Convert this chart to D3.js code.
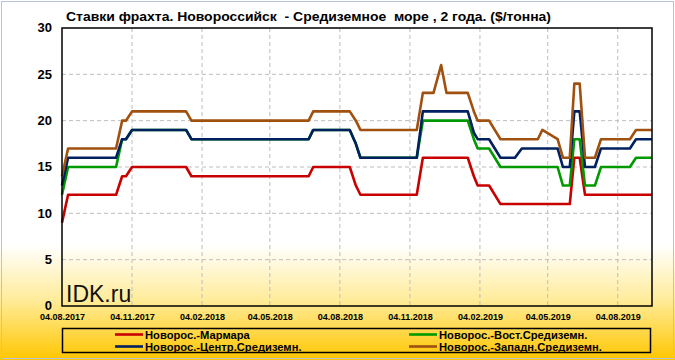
<!DOCTYPE html>
<html><head><meta charset="utf-8">
<script src="https://cdn.jsdelivr.net/npm/d3@7"></script>
<style>html,body{margin:0;padding:0;background:#fff;}svg{display:block;}</style>
</head><body>
<script>
const titleText = "Ставки фрахта. Новороссийск  - Средиземное  море , 2 года. ($/тонна)";
const dates = ["04.08.2017","12.08.2017","14.10.2017","22.10.2017","27.10.2017","04.11.2017","14.01.2018","21.01.2018","24.06.2018","30.06.2018","17.08.2018","25.08.2018","31.08.2018","13.11.2018","21.11.2018","05.12.2018","15.12.2018","22.12.2018","19.01.2019","27.01.2019","01.02.2019","16.02.2019","03.03.2019","22.03.2019","31.03.2019","21.04.2019","27.04.2019","17.05.2019","24.05.2019","02.06.2019","08.06.2019","15.06.2019","22.06.2019","05.07.2019","13.07.2019","20.08.2019","28.08.2019","18.09.2019"];
const seriesNames = ["Новорос.-Мармара","Новорос.-Вост.Средиземн.","Новорос.-Центр.Средиземн.","Новорос.-Западн.Средиземн."];
const marmara = [9,12,12,14,14,15,15,14,14,15,15,13,12,12,16,16,16,16,16,14,13,13,11,11,11,11,11,11,11,11,16,16,12,12,12,12,12,12];
const vost    = [12,15,15,18,18,19,19,18,18,19,19,17.5,16,16,20,20,20,20,20,18,17,17,15,15,15,15,15,15,13,13,18,18,13,13,15,15,16,16];
const centr   = [13,16,16,18,18,19,19,18,18,19,19,17.5,16,16,21,21,21,21,21,18.7,18,18,16,16,17,17,17,17,15,15,21,21,15,15,17,17,18,18];
const zapad   = [14,17,17,20,20,21,21,20,20,21,21,20,19,19,23,23,26,23,23,21,20,20,18,18,18,18,19,18,16,16,24,24,16,16,18,18,19,19];
const xTickLabels = ["04.08.2017","04.11.2017","04.02.2018","04.05.2018","04.08.2018","04.11.2018","04.02.2019","04.05.2019","04.08.2019"];
const yTicks = [0,5,10,15,20,25,30];
const xDomain = ["04.08.2017","18.09.2019"];
const colors = ["#C80000","#009A00","#002060","#A0500F"];
const watermark = "IDK.ru";

const W = 675, H = 360;
const P = {l:62, r:652, t:28, b:306};
const parse = d3.timeParse("%d.%m.%Y");
const svg = d3.select("body").append("svg").attr("width",W).attr("height",H);
const defs = svg.append("defs");
const grad = defs.append("linearGradient").attr("id","bg").attr("x1",0).attr("y1",0).attr("x2",0).attr("y2",1);
grad.append("stop").attr("offset","0.68").attr("stop-color","#FFFFFF");
grad.append("stop").attr("offset","0.83").attr("stop-color","#FFEC9C");
grad.append("stop").attr("offset","1").attr("stop-color","#FFC600");
svg.append("rect").attr("width",W).attr("height",H).attr("fill","url(#bg)");
svg.append("rect").attr("x",1.5).attr("y",1.5).attr("width",W-3).attr("height",H-3)
  .attr("fill","none").attr("stroke","#B4C4DC").attr("stroke-width",1);

const x = d3.scaleTime().domain(xDomain.map(parse)).range([P.l,P.r]);
const y = d3.scaleLinear().domain([0,30]).range([P.b,P.t]);

// gridlines
const g = svg.append("g");
g.selectAll(".hg").data(yTicks.filter(v=>v>0&&v<30)).join("line")
  .attr("x1",P.l).attr("x2",P.r).attr("y1",d=>y(d)).attr("y2",d=>y(d))
  .attr("stroke","#BDBDBD").attr("stroke-dasharray","4,3").attr("stroke-width",1);
g.selectAll(".vg").data(xTickLabels.slice(1)).join("line")
  .attr("x1",d=>x(parse(d))).attr("x2",d=>x(parse(d))).attr("y1",P.t).attr("y2",P.b)
  .attr("stroke","#BDBDBD").attr("stroke-dasharray","4,3").attr("stroke-width",1);

// watermark
svg.append("text").attr("x",66).attr("y",302).attr("font-family","Liberation Sans, Arial, sans-serif")
  .attr("font-size",23).attr("fill","#111").text(watermark);

// axes
const yAxis = d3.axisLeft(y).tickValues(yTicks).tickSize(0).tickPadding(10);
const ya = svg.append("g").attr("transform",`translate(${P.l},0)`).call(yAxis);
ya.select(".domain").remove();
ya.selectAll("text").attr("font-family","Liberation Sans, Arial, sans-serif").attr("font-weight","bold")
  .attr("font-size",13).attr("fill","#000").attr("x",-10).attr("dy","0.3em");
const xAxis = d3.axisBottom(x).tickValues(xTickLabels.map(parse)).tickSize(0).tickPadding(8)
  .tickFormat(d3.timeFormat("%d.%m.%Y"));
const xa = svg.append("g").attr("transform",`translate(0,${P.b})`).call(xAxis);
xa.select(".domain").remove();
xa.selectAll("text").attr("font-family","Liberation Sans, Arial, sans-serif").attr("font-weight","bold")
  .attr("font-size",9).attr("fill","#000");

// lines
const allSeries = [marmara, vost, centr, zapad];
const line = d3.line().x((d,i)=>x(parse(dates[i]))).y(d=>y(d));
svg.append("g").selectAll("path").data(allSeries).join("path")
  .attr("d",d=>line(d)).attr("fill","none").attr("stroke",(d,i)=>colors[i])
  .attr("stroke-width",2.6).attr("stroke-linejoin","round");

// frame
svg.append("rect").attr("x",P.l).attr("y",P.t).attr("width",P.r-P.l).attr("height",P.b-P.t)
  .attr("fill","none").attr("stroke","#000").attr("stroke-width",1.5);

// title
svg.append("text").attr("x",66).attr("y",21).attr("font-family","Liberation Sans, Arial, sans-serif")
  .attr("font-weight","bold").attr("font-size",13).attr("fill","#000")
  .attr("textLength",485).attr("lengthAdjust","spacingAndGlyphs")
  .style("white-space","pre").text(titleText);

// legend
svg.append("rect").attr("x",62.5).attr("y",328.5).attr("width",588).attr("height",24)
  .attr("fill","none").attr("stroke","#000").attr("stroke-width",1.5);
const legPos = [[115,334.5],[409,334.5],[115,346.5],[409,346.5]];
const lg = svg.append("g").selectAll("g").data(seriesNames).join("g")
  .attr("transform",(d,i)=>`translate(${legPos[i][0]},${legPos[i][1]})`);
lg.append("line").attr("x1",0).attr("x2",28).attr("stroke",(d,i)=>colors[i]).attr("stroke-width",2.6);
lg.append("text").attr("x",30).attr("y",4).attr("font-family","Liberation Sans, Arial, sans-serif")
  .attr("font-weight","bold").attr("font-size",11.2).attr("fill","#000").text(d=>d);
</script>
</body></html>
